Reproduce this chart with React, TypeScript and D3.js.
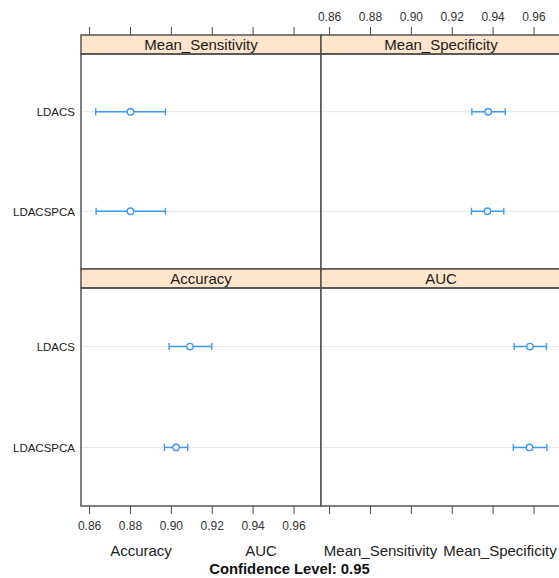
import React from "react";
import * as d3 from "d3";

// Models compared in every panel (top to bottom)
const models = ["LDACS", "LDACSPCA"];

// Panels, in reading order (top-left, top-right, bottom-left, bottom-right)
const metrics = ["Mean_Sensitivity", "Mean_Specificity", "Accuracy", "AUC"];

// Point estimates and 95% confidence bounds, one entry per model
const estimate: Record<string, number[]> = {
  Mean_Sensitivity: [0.88, 0.88],
  Mean_Specificity: [0.9376, 0.9372],
  Accuracy: [0.9091, 0.9023],
  AUC: [0.958, 0.9578],
};
const lower: Record<string, number[]> = {
  Mean_Sensitivity: [0.863, 0.8632],
  Mean_Specificity: [0.9296, 0.9294],
  Accuracy: [0.8989, 0.8966],
  AUC: [0.9503, 0.9499],
};
const upper: Record<string, number[]> = {
  Mean_Sensitivity: [0.8971, 0.8971],
  Mean_Specificity: [0.9459, 0.9452],
  Accuracy: [0.9198, 0.908],
  AUC: [0.9661, 0.9663],
};

const xTicks = [0.86, 0.88, 0.9, 0.92, 0.94, 0.96];
const xLabels = ["Accuracy", "AUC", "Mean_Sensitivity", "Mean_Specificity"];
const subtitle = "Confidence Level: 0.95";

const W = 559;
const H = 578;
const colX = [81, 321];
const colW = 240;
const rows = [
  { stripTop: 35, top: 54, bottom: 269 },
  { stripTop: 269, top: 288, bottom: 506 },
];
const xDomain: [number, number] = [0.8558, 0.9732];
const yDomain: [number, number] = [0.42, 2.58];

const BLUE = "#3d98f5";
const FONT = "Liberation Sans, Arial, sans-serif";
const FRAME = "#4a4a4a";

export default function App() {
  const panels = metrics.map((m, i) => {
    const col = i % 2;
    const row = Math.floor(i / 2);
    const r = rows[row];
    const x = d3.scaleLinear().domain(xDomain).range([colX[col], colX[col] + colW]);
    const y = d3.scaleLinear().domain(yDomain).range([r.bottom, r.top]);
    // first model sits on top
    const yOf = (k: number) => y(models.length - k);
    return (
      <g key={m}>
        <rect x={colX[col]} y={r.top} width={colW} height={r.bottom - r.top} fill="#ffffff" />
        {models.map((name, k) => (
          <line
            key={"ref" + name}
            x1={colX[col]}
            x2={colX[col] + colW}
            y1={yOf(k)}
            y2={yOf(k)}
            stroke="#e8e8e8"
            strokeWidth={1}
          />
        ))}
        {models.map((name, k) => {
          const yy = yOf(k);
          const lo = x(lower[m][k]);
          const hi = x(upper[m][k]);
          return (
            <g key={name} stroke={BLUE} strokeWidth={1.4} fill="none">
              <line x1={lo} x2={hi} y1={yy} y2={yy} />
              <line x1={lo} x2={lo} y1={yy - 3.5} y2={yy + 3.5} />
              <line x1={hi} x2={hi} y1={yy - 3.5} y2={yy + 3.5} />
              <circle cx={x(estimate[m][k])} cy={yy} r={3.2} fill="#ffffff" />
            </g>
          );
        })}
        <rect
          x={colX[col]}
          y={r.stripTop}
          width={colW}
          height={r.top - r.stripTop}
          fill="#ffe5cc"
          stroke={FRAME}
          strokeWidth={1.4}
        />
        <text
          x={colX[col] + colW / 2}
          y={r.top - 3.8}
          textAnchor="middle"
          fontSize={15}
          fontFamily={FONT}
          fill="#1a1a1a"
        >
          {m}
        </text>
        <rect
          x={colX[col]}
          y={r.top}
          width={colW}
          height={r.bottom - r.top}
          fill="none"
          stroke={FRAME}
          strokeWidth={1.4}
        />
      </g>
    );
  });

  // Axes: ticks on both columns, labels alternate (bottom-left, top-right)
  const axes = [0, 1].map((col) => {
    const x = d3.scaleLinear().domain(xDomain).range([colX[col], colX[col] + colW]);
    return (
      <g key={"ax" + col} fontFamily={FONT} fontSize={12} fill="#333">
        {xTicks.map((t) => (
          <g key={t}>
            <line x1={x(t)} x2={x(t)} y1={27} y2={35} stroke={FRAME} strokeWidth={1} />
            <line x1={x(t)} x2={x(t)} y1={506} y2={514} stroke={FRAME} strokeWidth={1} />
            {col === 1 && (
              <text x={x(t)} y={20.5} textAnchor="middle">
                {t.toFixed(2)}
              </text>
            )}
            {col === 0 && (
              <text x={x(t)} y={529.5} textAnchor="middle">
                {t.toFixed(2)}
              </text>
            )}
          </g>
        ))}
      </g>
    );
  });

  const yLabels = rows.map((r, ri) => {
    const y = d3.scaleLinear().domain(yDomain).range([r.bottom, r.top]);
    return models.map((name, k) => (
      <text
        key={ri + name}
        x={75}
        y={y(models.length - k) + 4.5}
        textAnchor="end"
        fontSize={11.5}
        fontFamily={FONT}
        fill="#222"
      >
        {name}
      </text>
    ));
  });

  const xLabelPos = [141, 261, 380.5, 500];

  return (
    <svg
      width={W}
      height={H}
      style={{ position: "absolute", left: 0, top: 0, background: "#ffffff" }}
    >
      <rect width={W} height={H} fill="#ffffff" />
      {panels}
      {axes}
      {yLabels}
      {xLabels.map((l, i) => (
        <text
          key={l}
          x={xLabelPos[i]}
          y={556}
          textAnchor="middle"
          fontSize={15}
          fontFamily={FONT}
          fill="#222"
        >
          {l}
        </text>
      ))}
      <text
        x={289.5}
        y={574}
        textAnchor="middle"
        fontSize={14.8}
        fontWeight="bold"
        fontFamily={FONT}
        fill="#111"
      >
        {subtitle}
      </text>
    </svg>
  );
}
